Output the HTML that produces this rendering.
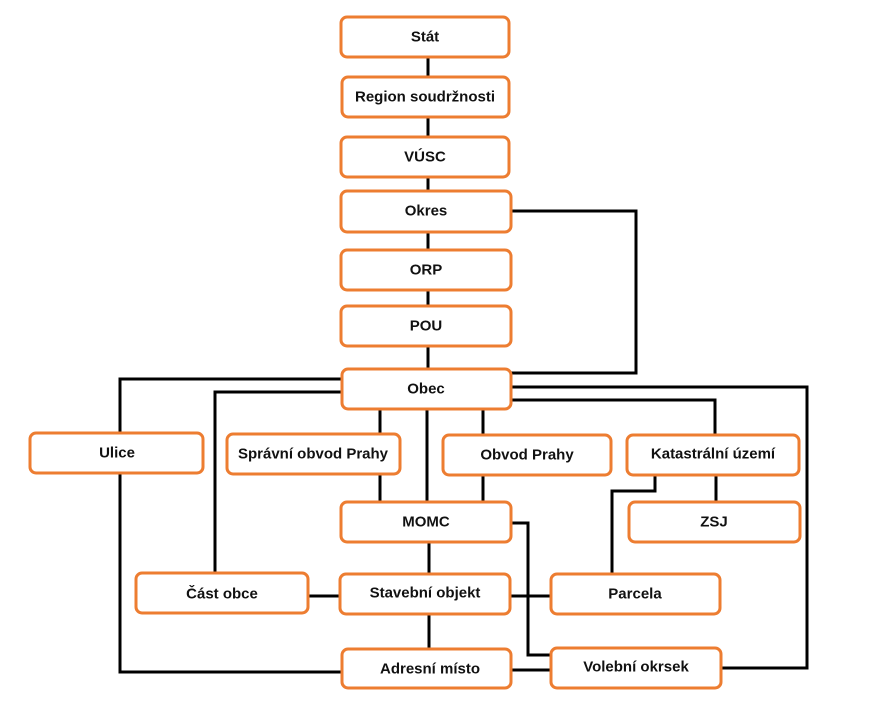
<!DOCTYPE html>
<html><head><meta charset="utf-8"><style>
html,body{margin:0;padding:0;background:#fff;}
svg{display:block}
text{font-family:"Liberation Sans",sans-serif;font-weight:bold;font-size:15px;fill:#111;text-anchor:middle;dominant-baseline:central}
.b{fill:#fff;stroke:#ED7D31;stroke-width:3}
.l{fill:none;stroke:#000;stroke-width:3}
</style></head><body>
<svg width="870" height="712" viewBox="0 0 870 712">
<g class="l">
<path d="M428 57V369"/>
<path d="M511 211H636V373H511"/>
<path d="M341 379H120V672H341"/>
<path d="M341 392H215V573"/>
<path d="M380 409V502"/>
<path d="M427 409V502"/>
<path d="M483 409V502"/>
<path d="M511 387H807V668H721"/>
<path d="M511 400H715V435"/>
<path d="M716 475V502"/>
<path d="M655 475V491H612V574"/>
<path d="M511 523H528V655H551"/>
<path d="M429 542V649"/>
<path d="M308 596H340"/>
<path d="M510 596H551"/>
<path d="M511 670H551"/>
</g>
<g>
<rect class="b" x="341" y="17" width="168" height="40" rx="6"/><text x="425" y="37">Stát</text>
<rect class="b" x="342" y="77" width="167" height="40" rx="6"/><text x="425" y="97">Region soudržnosti</text>
<rect class="b" x="341" y="137" width="168" height="40" rx="6"/><text x="425" y="157">VÚSC</text>
<rect class="b" x="341" y="191" width="170" height="41" rx="6"/><text x="426" y="211">Okres</text>
<rect class="b" x="341" y="250" width="170" height="40" rx="6"/><text x="426" y="270">ORP</text>
<rect class="b" x="341" y="306" width="170" height="40" rx="6"/><text x="426" y="326">POU</text>
<rect class="b" x="342" y="369" width="169" height="40" rx="6"/><text x="426" y="389">Obec</text>
<rect class="b" x="30" y="433" width="173" height="40" rx="6"/><text x="117" y="453">Ulice</text>
<rect class="b" x="227" y="434" width="173" height="40" rx="6"/><text x="313" y="454">Správní obvod Prahy</text>
<rect class="b" x="443" y="435" width="168" height="40" rx="6"/><text x="527" y="455">Obvod Prahy</text>
<rect class="b" x="627" y="435" width="172" height="40" rx="6"/><text x="713" y="454">Katastrální území</text>
<rect class="b" x="341" y="502" width="170" height="40" rx="6"/><text x="426" y="522">MOMC</text>
<rect class="b" x="629" y="502" width="171" height="40" rx="6"/><text x="714" y="522">ZSJ</text>
<rect class="b" x="136" y="573" width="172" height="40" rx="6"/><text x="222" y="594">Část obce</text>
<rect class="b" x="340" y="574" width="170" height="40" rx="6"/><text x="425" y="593">Stavební objekt</text>
<rect class="b" x="551" y="574" width="169" height="40" rx="6"/><text x="635" y="594">Parcela</text>
<rect class="b" x="342" y="649" width="169" height="39" rx="6"/><text x="430" y="669">Adresní místo</text>
<rect class="b" x="551" y="648" width="170" height="40" rx="6"/><text x="636" y="667">Volební okrsek</text>
</g>
</svg>
</body></html>
